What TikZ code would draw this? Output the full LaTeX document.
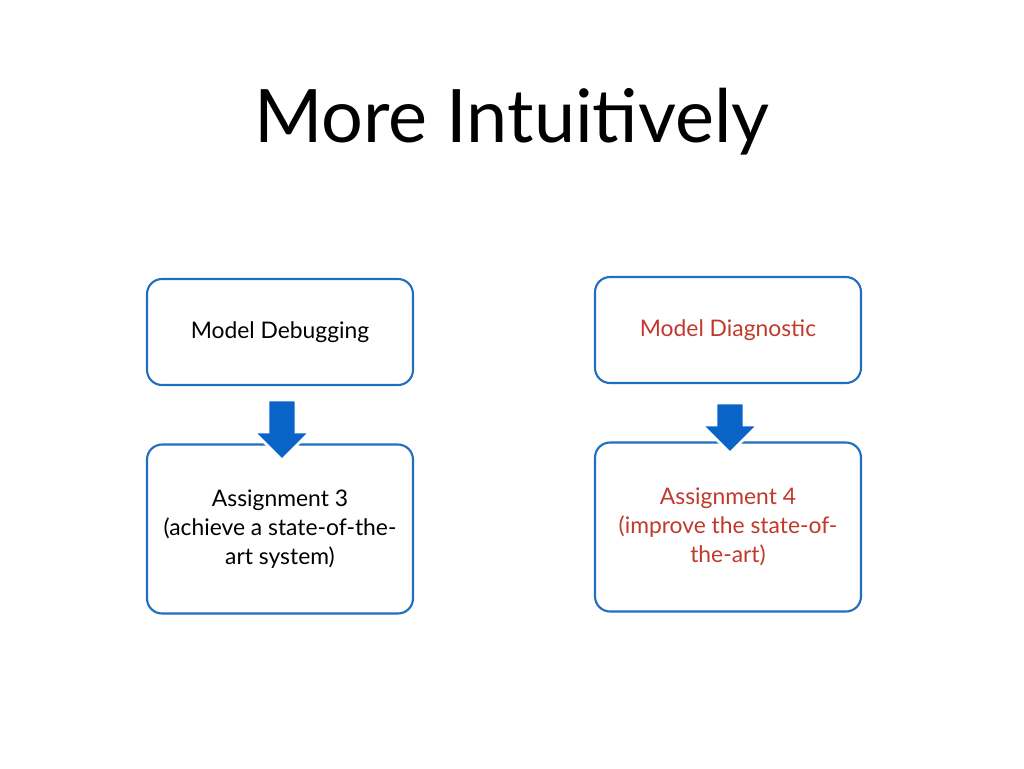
\documentclass[tikz,border=0pt]{standalone}
\usepackage{fontspec}
\setmainfont{Lato}
\definecolor{boxblue}{HTML}{1F6FC0}
\definecolor{arrowblue}{HTML}{0A64C8}
\definecolor{diagred}{HTML}{C0392B}
\newcommand{\blockarrow}[2]{% top coordinate, length
  \filldraw[fill=arrowblue,draw=white,line width=1.5pt,line join=miter]
    (#1) ++(-14,0) -- ++(0,#2-28) -- ++(-14,0) -- ++(28,28) -- ++(28,-28)
    -- ++(-14,0) -- ++(0,28-#2) -- cycle;}
\begin{document}
\begin{tikzpicture}[x=0.02cm,y=-0.02cm,
  box/.style={draw=boxblue,line width=1.2pt,rounded corners=0.3cm,minimum width=5.32cm,align=center,font=\fontsize{13}{16.5}\selectfont}]
\useasboundingbox (0,0) rectangle (1024,768);
\node (title) at (512,122) {\fontsize{42}{48}\selectfont More Intuitively};

\node[box,minimum height=2.12cm] (A) at (280,332) {Model Debugging};
\node[box,minimum height=3.38cm] (B) at (280,529) {Assignment 3\\(achieve a state-of-the-\\art system)};
\node[box,minimum height=2.12cm,text=diagred] (C) at (728,330) {Model Diagnostic};
\node[box,minimum height=3.38cm,text=diagred] (D) at (728,527) {Assignment 4\\(improve the state-of-\\the-art)};

\coordinate (AB) at (282,400);
\coordinate (CD) at (730,403);
\blockarrow{AB}{60}
\blockarrow{CD}{50}

\end{tikzpicture}
\end{document}
